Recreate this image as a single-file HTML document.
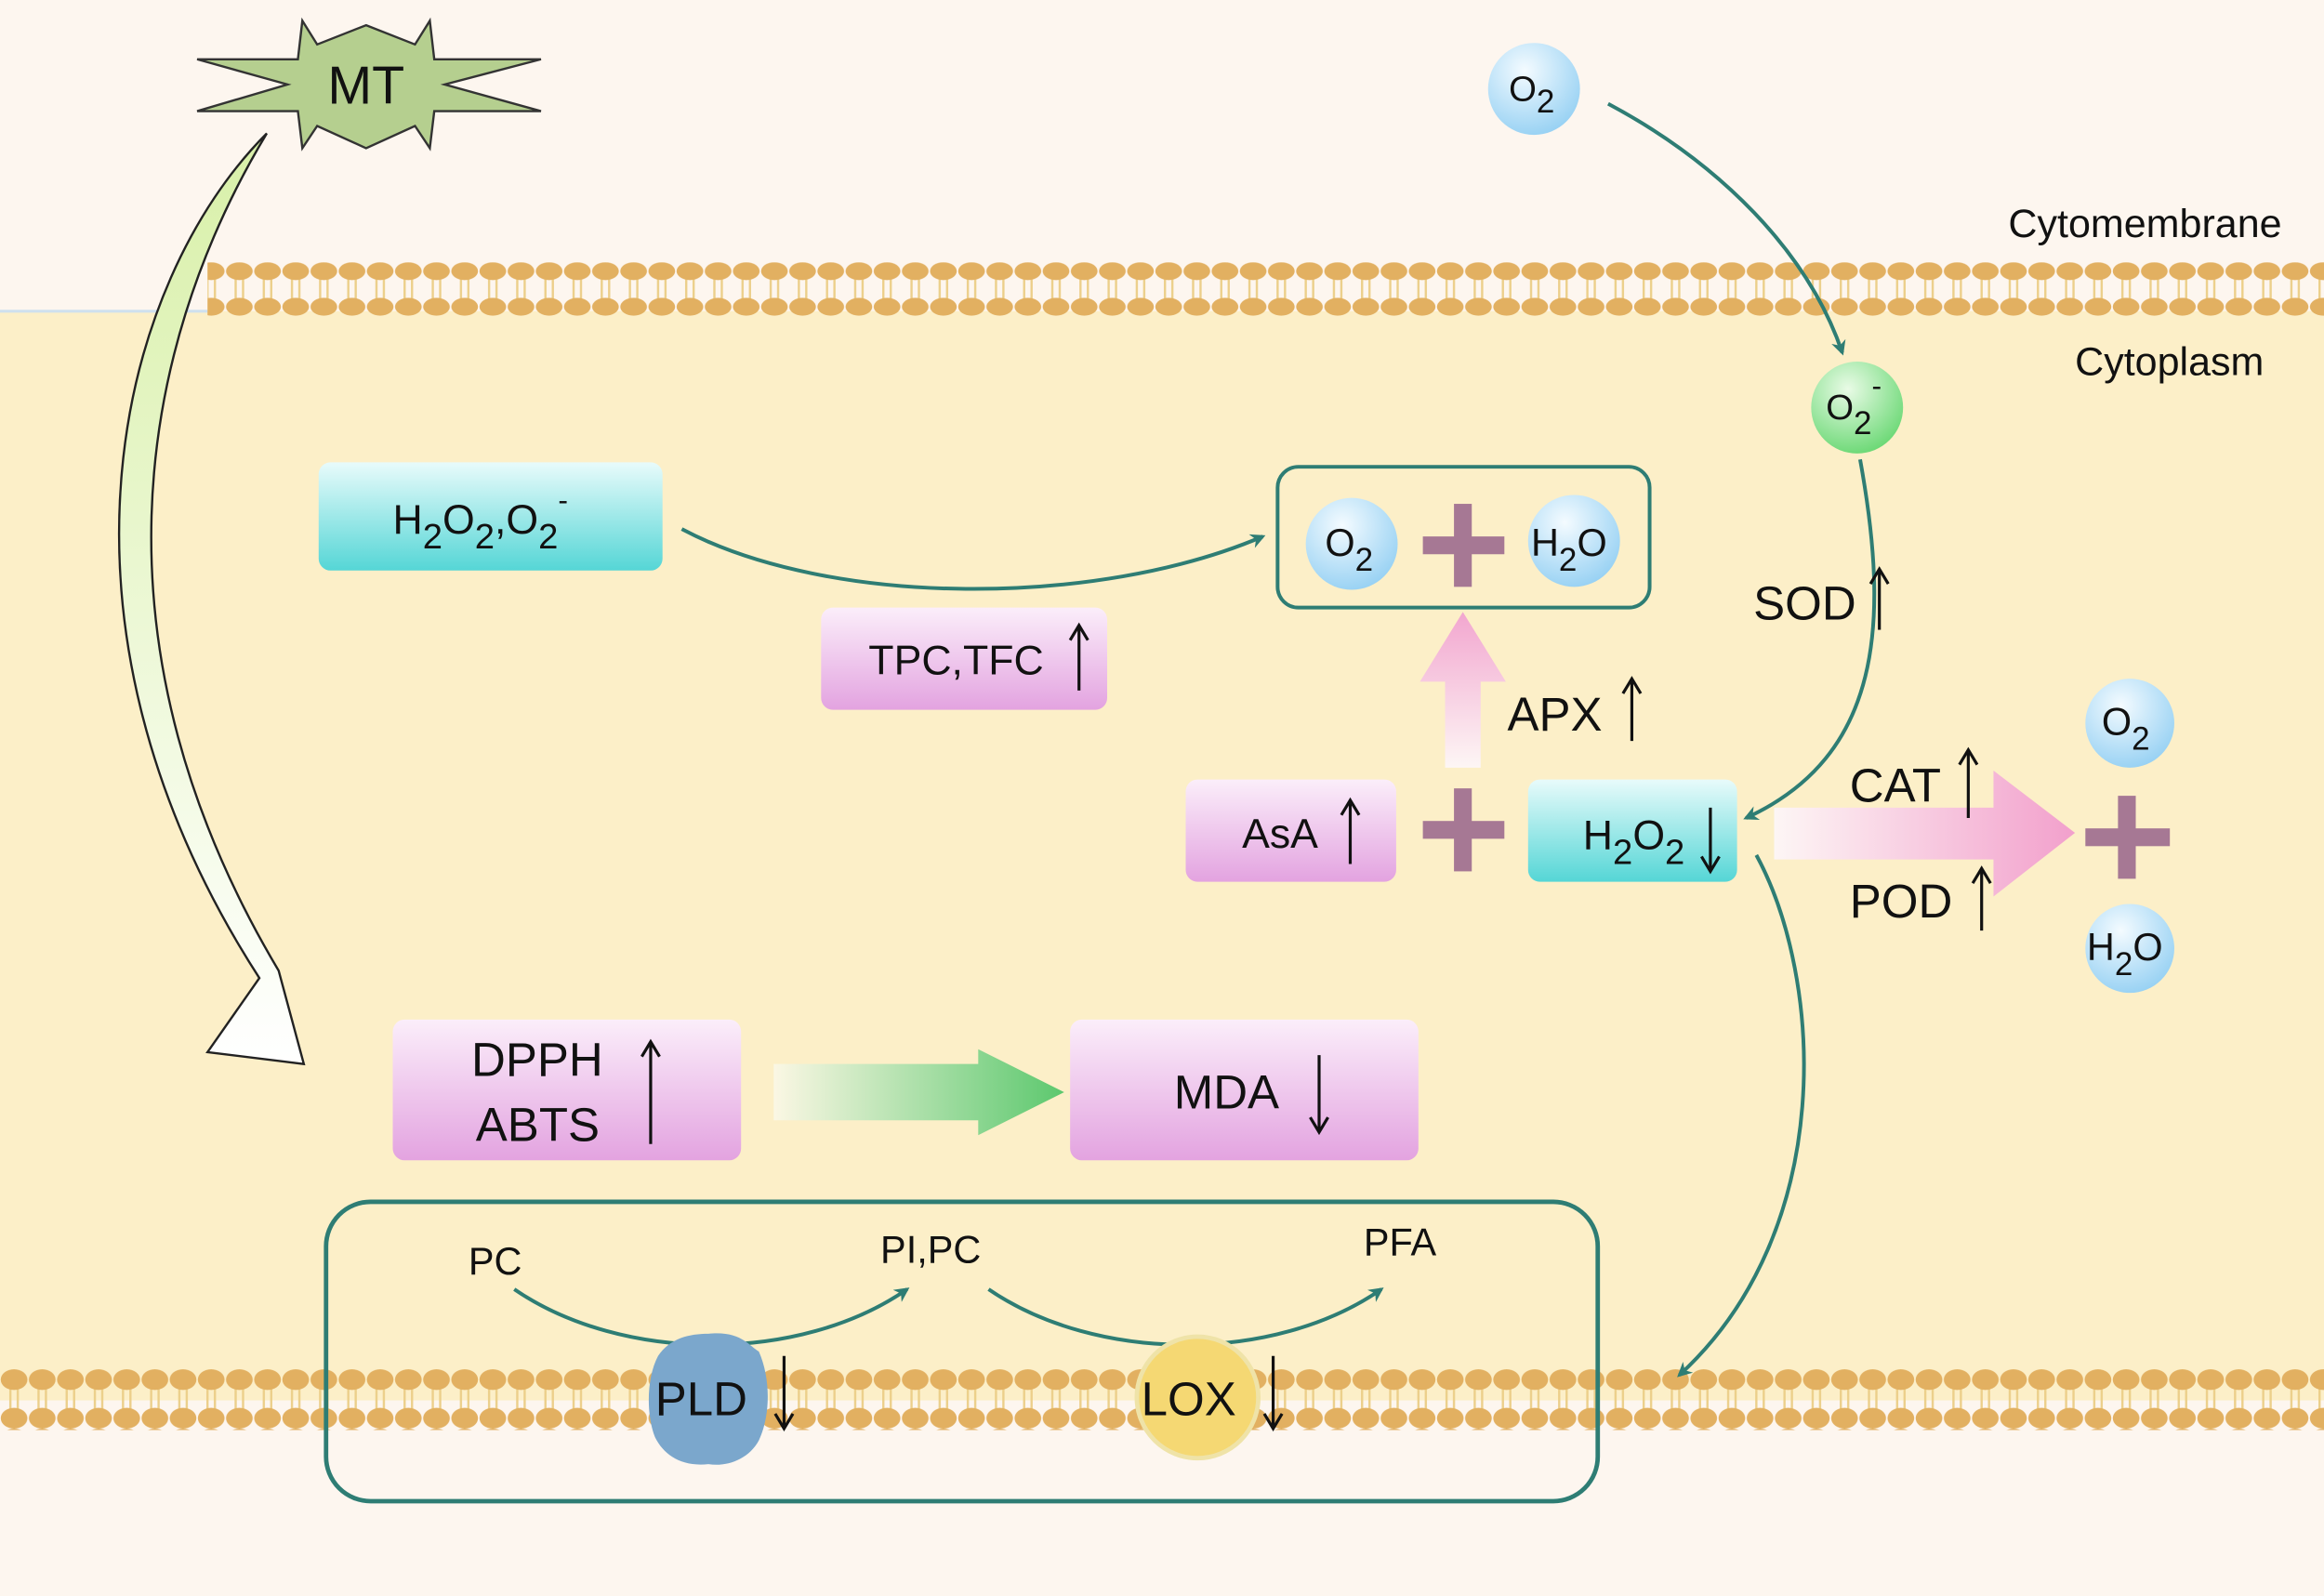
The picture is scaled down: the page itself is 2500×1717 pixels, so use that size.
<!DOCTYPE html>
<html><head><meta charset="utf-8"><style>
html,body{margin:0;padding:0;background:#fdf6ef}
svg{display:block}
text{font-family:"Liberation Sans",sans-serif;fill:#111}
</style></head><body>
<svg width="2500" height="1717" viewBox="0 0 1568 1077" preserveAspectRatio="none" xmlns="http://www.w3.org/2000/svg">
<defs>
<pattern id="mem1" x="0" y="177" width="19" height="40" patternUnits="userSpaceOnUse">
<line x1="7" y1="6" x2="7" y2="30" stroke="#eccf8a" stroke-width="1.5"/>
<line x1="12" y1="6" x2="12" y2="30" stroke="#eccf8a" stroke-width="1.5"/>
<ellipse cx="9.5" cy="6" rx="9" ry="6" fill="#e2b061"/>
<ellipse cx="9.5" cy="30" rx="9" ry="6" fill="#e2b061"/>
</pattern>
<pattern id="mem2" x="0" y="924" width="19" height="40" patternUnits="userSpaceOnUse">
<line x1="7" y1="6" x2="7" y2="34" stroke="#eccf8a" stroke-width="1.5"/>
<line x1="12" y1="6" x2="12" y2="34" stroke="#eccf8a" stroke-width="1.5"/>
<ellipse cx="9.5" cy="7" rx="9" ry="7" fill="#e2b061"/>
<ellipse cx="9.5" cy="33" rx="9" ry="7" fill="#e2b061"/>
</pattern>
<radialGradient id="blue" cx="0.4" cy="0.3" r="0.8"><stop offset="0" stop-color="#f4fbff"/><stop offset="1" stop-color="#8ecdf2"/></radialGradient>
<radialGradient id="green" cx="0.4" cy="0.3" r="0.8"><stop offset="0" stop-color="#e9fbe6"/><stop offset="1" stop-color="#5fd56a"/></radialGradient>
<linearGradient id="cyan" x1="0" y1="0" x2="0" y2="1"><stop offset="0" stop-color="#e8fbfb"/><stop offset="1" stop-color="#55d6d6"/></linearGradient>
<linearGradient id="pink" x1="0" y1="0" x2="0" y2="1"><stop offset="0" stop-color="#fbeefa"/><stop offset="1" stop-color="#e3a3e0"/></linearGradient>
<linearGradient id="pinkup" x1="0" y1="1" x2="0" y2="0"><stop offset="0" stop-color="#fdf6f5"/><stop offset="1" stop-color="#f2a6cf"/></linearGradient>
<linearGradient id="pinkr" x1="0" y1="0" x2="1" y2="0"><stop offset="0" stop-color="#fdf6f5"/><stop offset="1" stop-color="#f2a0cc"/></linearGradient>
<linearGradient id="greenr" x1="0" y1="0" x2="1" y2="0"><stop offset="0" stop-color="#fbf7e4"/><stop offset="1" stop-color="#5cc86e"/></linearGradient>
<linearGradient id="mtarrow" x1="0" y1="0" x2="0" y2="1"><stop offset="0" stop-color="#d8f0a8"/><stop offset="1" stop-color="#ffffff"/></linearGradient>
<marker id="ah" markerWidth="10" markerHeight="10" refX="8" refY="5" orient="auto" markerUnits="userSpaceOnUse" viewBox="0 0 10 10">
<path d="M0,0 L10,5 L0,10 L3,5 z" fill="#2e7d74"/></marker>
</defs>
<rect x="0" y="0" width="1568" height="1077" fill="#fdf6ef"/>
<rect x="0" y="210" width="1568" height="735" fill="#fcefc8"/>
<line x1="0" y1="210" x2="140" y2="210" stroke="#cfe0ee" stroke-width="2"/>
<rect x="140" y="177" width="1428" height="37" fill="url(#mem1)"/>
<rect x="0" y="924" width="1568" height="41" fill="url(#mem2)"/>
<text x="1355" y="160" font-size="27">Cytomembrane</text>
<text x="1400" y="253" font-size="27">Cytoplasm</text>
<!-- MT arrow -->
<path d="M180,90 C80,190 20,420 175,660 L140,710 L205,718 L188,655 C60,440 90,240 180,90 z" fill="url(#mtarrow)" stroke="#222" stroke-width="1.5"/>
<!-- MT star -->
<polygon points="247,17 280,30 290,14 293,40 365,40 300,57 365,75 293,75 290,100 280,85 247,100 214,85 204,100 201,75 133,75 194,57 133,40 201,40 204,14 214,30" fill="#b5cf8f" stroke="#333" stroke-width="1.5"/>
<text x="247" y="70" font-size="36" text-anchor="middle">MT</text>
<!-- O2 top -->
<circle cx="1035" cy="60" r="31" fill="url(#blue)"/>
<text x="1018" y="68" font-size="24">O<tspan dy="8" font-size="22">2</tspan></text>
<path d="M1085,70 C1160,110 1220,170 1243,238" fill="none" stroke="#2e7d74" stroke-width="2.5" marker-end="url(#ah)"/>
<!-- O2- -->
<circle cx="1253" cy="275" r="31" fill="url(#green)"/>
<text x="1232" y="283" font-size="24">O<tspan dy="10" font-size="22">2</tspan><tspan dy="-26" font-size="20">-</tspan></text>
<path d="M1255,310 C1275,420 1270,510 1178,552" fill="none" stroke="#2e7d74" stroke-width="2.5" marker-end="url(#ah)"/>
<text x="1183" y="418" font-size="32">SOD</text>
<line x1="1268" y1="425" x2="1268" y2="386" stroke="#111" stroke-width="2"/><path d="M1262,394 L1268,384 L1274,394" fill="none" stroke="#111" stroke-width="2"/>
<!-- H2O2,O2- box -->
<rect x="215" y="312" width="232" height="73" rx="8" fill="url(#cyan)"/>
<text x="265" y="360" font-size="28">H<tspan dy="10" font-size="24">2</tspan><tspan dy="-10">O</tspan><tspan dy="10" font-size="24">2</tspan><tspan dy="-10">,O</tspan><tspan dy="10" font-size="24">2</tspan><tspan dy="-26" font-size="20">-</tspan></text>
<path d="M460,357 C560,410 740,410 852,362" fill="none" stroke="#2e7d74" stroke-width="2.5" marker-end="url(#ah)"/>
<!-- TPC -->
<rect x="554" y="410" width="193" height="69" rx="8" fill="url(#pink)"/>
<text x="586" y="455" font-size="28">TPC,TFC</text>
<line x1="728" y1="466" x2="728" y2="424" stroke="#111" stroke-width="2"/><path d="M722,432 L728,422 L734,432" fill="none" stroke="#111" stroke-width="2"/>
<!-- product box -->
<rect x="862" y="315" width="251" height="95" rx="14" fill="none" stroke="#2e7d74" stroke-width="2.5"/>
<circle cx="912" cy="367" r="31" fill="url(#blue)"/>
<text x="894" y="375" font-size="26">O<tspan dy="10" font-size="22">2</tspan></text>
<rect x="960" y="362" width="55" height="12" fill="#a67894"/><rect x="981" y="340" width="12" height="56" fill="#a67894"/>
<circle cx="1062" cy="365" r="31" fill="url(#blue)"/>
<text x="1033" y="375" font-size="26">H<tspan dy="10" font-size="22">2</tspan><tspan dy="-10">O</tspan></text>
<!-- APX arrow -->
<path d="M975,518 L975,460 L958,460 L987,413 L1016,460 L999,460 L999,518 z" fill="url(#pinkup)"/>
<text x="1017" y="493" font-size="32">APX</text>
<line x1="1101" y1="500" x2="1101" y2="460" stroke="#111" stroke-width="2"/><path d="M1095,468 L1101,458 L1107,468" fill="none" stroke="#111" stroke-width="2"/>
<!-- AsA -->
<rect x="800" y="526" width="142" height="69" rx="8" fill="url(#pink)"/>
<text x="838" y="572" font-size="28">AsA</text>
<line x1="911" y1="583" x2="911" y2="542" stroke="#111" stroke-width="2"/><path d="M905,550 L911,540 L917,550" fill="none" stroke="#111" stroke-width="2"/>
<rect x="960" y="554" width="55" height="12" fill="#a67894"/><rect x="981" y="532" width="12" height="56" fill="#a67894"/>
<rect x="1031" y="526" width="141" height="69" rx="8" fill="url(#cyan)"/>
<text x="1068" y="573" font-size="28">H<tspan dy="10" font-size="24">2</tspan><tspan dy="-10">O</tspan><tspan dy="10" font-size="24">2</tspan></text>
<line x1="1154" y1="545" x2="1154" y2="586" stroke="#111" stroke-width="2"/><path d="M1148,578 L1154,588 L1160,578" fill="none" stroke="#111" stroke-width="2"/>
<!-- CAT/POD arrow -->
<path d="M1197,545 L1345,545 L1345,520 L1400,562 L1345,605 L1345,580 L1197,580 z" fill="url(#pinkr)"/>
<text x="1248" y="541" font-size="32">CAT</text>
<line x1="1328" y1="552" x2="1328" y2="508" stroke="#111" stroke-width="2"/><path d="M1322,516 L1328,506 L1334,516" fill="none" stroke="#111" stroke-width="2"/>
<text x="1248" y="619" font-size="32">POD</text>
<line x1="1337" y1="628" x2="1337" y2="588" stroke="#111" stroke-width="2"/><path d="M1331,596 L1337,586 L1343,596" fill="none" stroke="#111" stroke-width="2"/>
<rect x="1407" y="559" width="57" height="12" fill="#a67894"/><rect x="1429" y="537" width="12" height="56" fill="#a67894"/>
<circle cx="1437" cy="488" r="30" fill="url(#blue)"/>
<text x="1418" y="496" font-size="26">O<tspan dy="10" font-size="22">2</tspan></text>
<circle cx="1437" cy="640" r="30" fill="url(#blue)"/>
<text x="1408" y="648" font-size="26">H<tspan dy="10" font-size="22">2</tspan><tspan dy="-10">O</tspan></text>
<path d="M1185,577 C1230,660 1240,830 1133,928" fill="none" stroke="#2e7d74" stroke-width="2.5" marker-end="url(#ah)"/>
<!-- DPPH -->
<rect x="265" y="688" width="235" height="95" rx="8" fill="url(#pink)"/>
<text x="318" y="726" font-size="32">DPPH</text>
<text x="321" y="770" font-size="32">ABTS</text>
<line x1="439" y1="772" x2="439" y2="705" stroke="#111" stroke-width="2"/><path d="M433,713 L439,703 L445,713" fill="none" stroke="#111" stroke-width="2"/>
<path d="M522,718 L660,718 L660,708 L718,737 L660,766 L660,756 L522,756 z" fill="url(#greenr)"/>
<rect x="722" y="688" width="235" height="95" rx="8" fill="url(#pink)"/>
<text x="792" y="748" font-size="32">MDA</text>
<line x1="890" y1="712" x2="890" y2="762" stroke="#111" stroke-width="2"/><path d="M884,754 L890,764 L896,754" fill="none" stroke="#111" stroke-width="2"/>
<!-- bottom box -->
<rect x="220" y="811" width="858" height="202" rx="30" fill="none" stroke="#2e7d74" stroke-width="3"/>
<text x="316" y="860" font-size="26">PC</text>
<text x="594" y="852" font-size="26">PI,PC</text>
<text x="920" y="847" font-size="26">PFA</text>
<path d="M347,870 C420,920 540,920 612,870" fill="none" stroke="#2e7d74" stroke-width="2.5" marker-end="url(#ah)"/>
<path d="M667,870 C740,920 860,920 932,870" fill="none" stroke="#2e7d74" stroke-width="2.5" marker-end="url(#ah)"/>
<path d="M478,900 C500,898 505,908 512,912 C520,930 520,955 512,972 C505,985 490,990 478,988 C460,990 448,982 442,970 C436,955 436,930 444,915 C452,903 465,900 478,900 z" fill="#7ba7cc"/>
<text x="442" y="955" font-size="32">PLD</text>
<line x1="529" y1="915" x2="529" y2="962" stroke="#111" stroke-width="2"/><path d="M523,954 L529,964 L535,954" fill="none" stroke="#111" stroke-width="2"/>
<circle cx="808" cy="943" r="41" fill="#f5d873" stroke="#efe3a8" stroke-width="3"/>
<text x="770" y="955" font-size="32">LOX</text>
<line x1="859" y1="915" x2="859" y2="962" stroke="#111" stroke-width="2"/><path d="M853,954 L859,964 L865,954" fill="none" stroke="#111" stroke-width="2"/>
</svg>
</body></html>
